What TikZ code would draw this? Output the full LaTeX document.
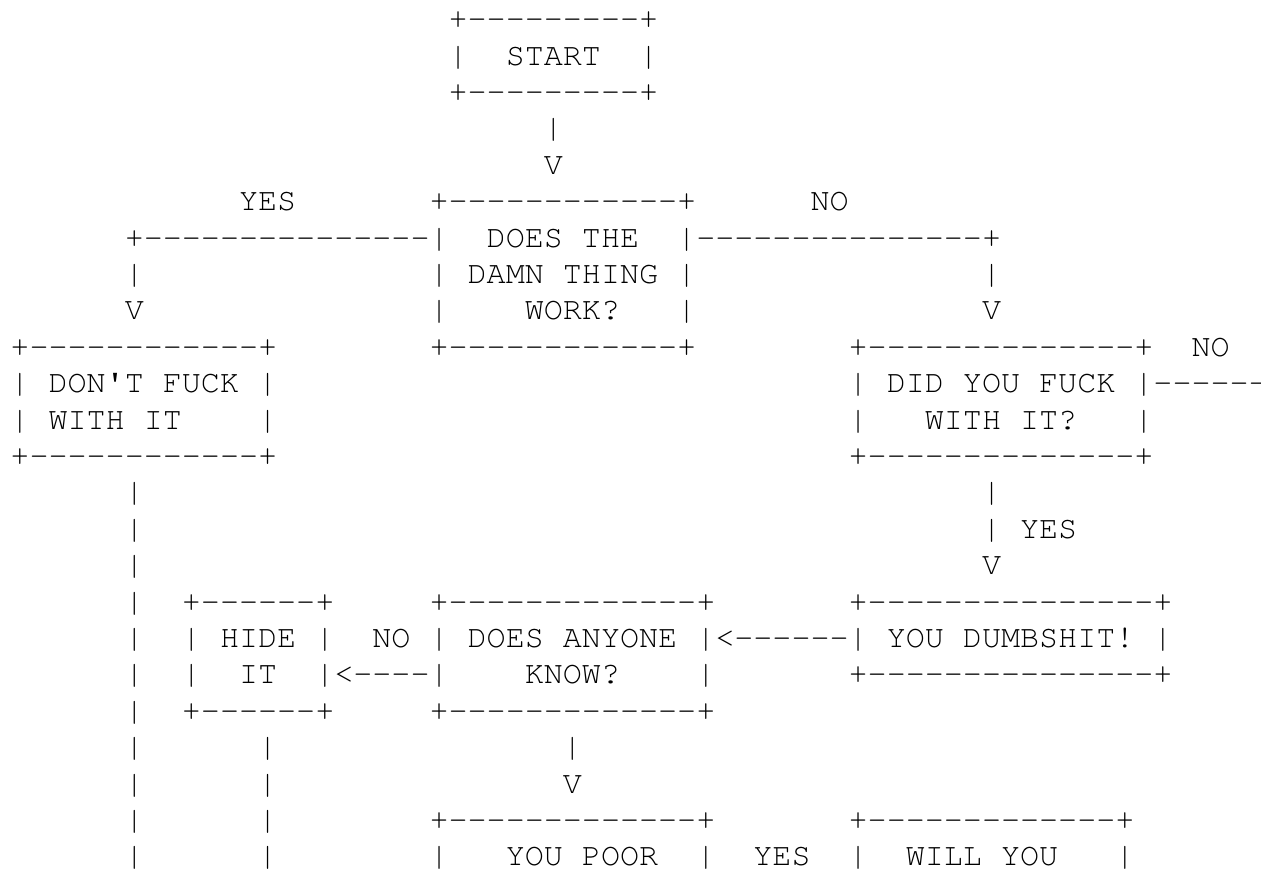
\documentclass[tikz,border=0pt]{standalone}
\usepackage[T1]{fontenc}
\renewcommand{\ttdefault}{pcr}
\usepackage{tikz}
\newcommand{\dsh}[1]{\foreach\k in {1,...,#1}{-{}}}

\begin{document}
\begin{tikzpicture}[x=.5pt,y=-.5pt,asc/.style={font=\ttfamily\fontsize{15.875}{18}\selectfont,anchor=base west,inner sep=0pt,outer sep=0pt}]
\useasboundingbox (0,0) rectangle (1261,869);
% rows of the chart, row/column/text
\foreach \r/\c/\t in {1/23/{+\dsh{9}+},2/23/{|},2/26/{START},2/33/{|},3/23/{+\dsh{9}+},4/28/{|},5/28/{V},
6/12/{YES},6/22/{+\dsh{12}+},6/42/{NO},
7/6/{+\dsh{15}|},7/25/{DOES THE},7/35/{|\dsh{15}+},
8/6/{|},8/22/{|},8/24/{DAMN THING},8/35/{|},8/51/{|},
9/6/{V},9/22/{|},9/27/{WORK?},9/35/{|},9/51/{V},
10/0/{+\dsh{12}+},10/22/{+\dsh{12}+},10/44/{+\dsh{14}+},10/62/{NO},
11/0/{|},11/2/{DON\textquotesingle T FUCK},11/13/{|},11/44/{|},11/46/{DID YOU FUCK},11/59/{|\dsh{6}},
12/0/{|},12/2/{WITH IT},12/13/{|},12/44/{|},12/48/{WITH IT?},12/59/{|},
13/0/{+\dsh{12}+},13/44/{+\dsh{14}+},
14/6/{|},14/51/{|},15/6/{|},15/51/{|},15/53/{YES},16/6/{|},16/51/{V},
17/6/{|},17/9/{+\dsh{6}+},17/22/{+\dsh{13}+},17/44/{+\dsh{15}+},
18/6/{|},18/9/{|},18/11/{HIDE},18/16/{|},18/19/{NO},18/22/{|},18/24/{DOES ANYONE},18/36/{|<\dsh{6}|},18/46/{YOU DUMBSHIT!},18/60/{|},
19/6/{|},19/9/{|},19/12/{IT},19/16/{|<\dsh{4}|},19/27/{KNOW?},19/36/{|},19/44/{+\dsh{15}+},
20/6/{|},20/9/{+\dsh{6}+},20/22/{+\dsh{13}+},
21/6/{|},21/13/{|},21/29/{|},22/6/{|},22/13/{|},22/29/{V},
23/6/{|},23/13/{|},23/22/{+\dsh{13}+},23/44/{+\dsh{13}+},
24/6/{|},24/13/{|},24/22/{|},24/26/{YOU POOR},24/36/{|},24/39/{YES},24/44/{|},24/47/{WILL YOU},24/58/{|}}{
\node[asc] (n\r-\c) at ({10.475+19.05*\c},{28.6+36.4*(\r-1)}) {\t};}
\end{tikzpicture}
\end{document}
